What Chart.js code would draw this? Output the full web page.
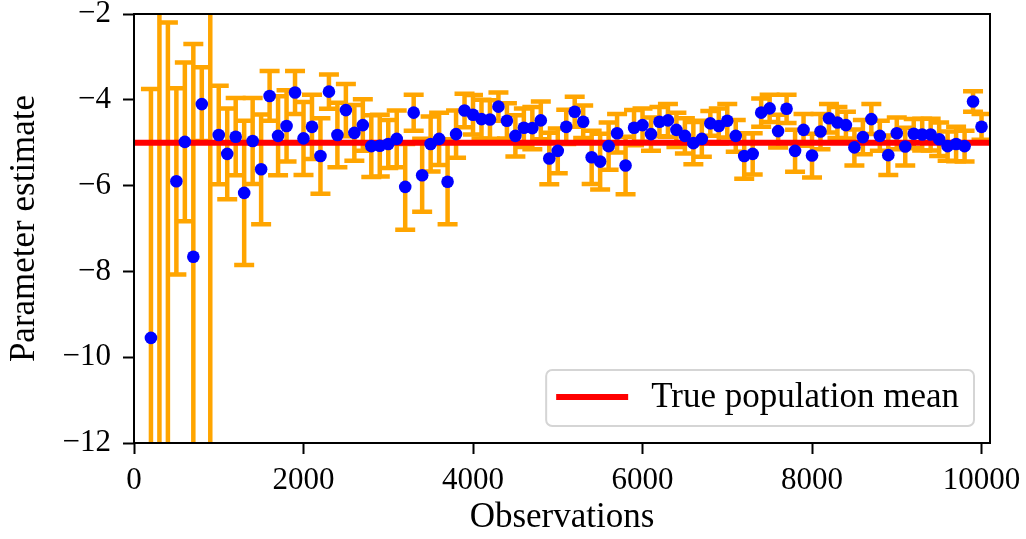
<!DOCTYPE html>
<html>
<head>
<meta charset="utf-8">
<script src="https://cdn.jsdelivr.net/npm/chart.js@4.4.1/dist/chart.umd.min.js"></script>
<style>
  html, body { margin: 0; padding: 0; background: #ffffff; }
  #chart { display: block; }
</style>
</head>
<body>
<canvas id="chart" width="1026" height="539"></canvas>
<script>
// Data
const observations = [
  200, 300, 400, 500, 600, 700, 800, 900, 1000,
  1100, 1200, 1300, 1400, 1500, 1600, 1700, 1800, 1900, 2000,
  2100, 2200, 2300, 2400, 2500, 2600, 2700, 2800, 2900, 3000,
  3100, 3200, 3300, 3400, 3500, 3600, 3700, 3800, 3900, 4000,
  4100, 4200, 4300, 4400, 4500, 4600, 4700, 4800, 4900, 5000,
  5100, 5200, 5300, 5400, 5500, 5600, 5700, 5800, 5900, 6000,
  6100, 6200, 6300, 6400, 6500, 6600, 6700, 6800, 6900, 7000,
  7100, 7200, 7300, 7400, 7500, 7600, 7700, 7800, 7900, 8000,
  8100, 8200, 8300, 8400, 8500, 8600, 8700, 8800, 8900, 9000,
  9100, 9200, 9300, 9400, 9500, 9600, 9700, 9800, 9900, 10000
];

const estimates = [
  -9.55, 2.6, -15.8, -5.9, -4.98, -7.66, -4.10, 0.7, -4.82,
  -5.26, -4.86, -6.17, -4.96, -5.62, -3.91, -4.84, -4.61, -3.83, -4.90,
  -4.63, -5.31, -3.81, -4.82, -4.24, -4.77, -4.59, -5.08, -5.07, -5.03,
  -4.91, -6.03, -4.30, -5.76, -5.03, -4.91, -5.91, -4.80, -4.25, -4.35,
  -4.45, -4.46, -4.16, -4.49, -4.84, -4.65, -4.66, -4.48, -5.37, -5.19,
  -4.63, -4.28, -4.51, -5.34, -5.44, -5.08, -4.78, -5.53, -4.65, -4.59,
  -4.80, -4.51, -4.48, -4.70, -4.84, -5.01, -4.91, -4.55, -4.61, -4.49,
  -4.84, -5.31, -5.26, -4.30, -4.20, -4.73, -4.21, -5.19, -4.70, -5.30,
  -4.74, -4.43, -4.53, -4.59, -5.11, -4.87, -4.45, -4.84, -5.29, -4.78,
  -5.09, -4.79, -4.81, -4.81, -4.92, -5.08, -5.03, -5.08, -4.04, -4.63
];

const errors = [
  5.80, 14.9, 13.6, 2.17, 1.85, 4.96, 0.86, 12.9, 1.15,
  1.06, 0.90, 1.68, 1.00, 1.28, 0.58, 0.92, 0.83, 0.50, 0.85,
  0.75, 0.88, 0.40, 0.75, 0.61, 0.65, 0.60, 0.72, 0.72, 0.56,
  0.66, 1.00, 0.42, 0.85, 0.64, 0.61, 0.99, 0.55, 0.39, 0.46,
  0.45, 0.45, 0.33, 0.41, 0.48, 0.45, 0.49, 0.44, 0.60, 0.52,
  0.40, 0.35, 0.38, 0.62, 0.65, 0.55, 0.45, 0.67, 0.41, 0.39,
  0.39, 0.34, 0.38, 0.40, 0.41, 0.49, 0.42, 0.29, 0.41, 0.39,
  0.37, 0.53, 0.48, 0.33, 0.32, 0.38, 0.33, 0.49, 0.37, 0.51,
  0.41, 0.33, 0.36, 0.31, 0.42, 0.40, 0.35, 0.35, 0.46, 0.37,
  0.44, 0.34, 0.37, 0.37, 0.39, 0.34, 0.40, 0.36, 0.24, 0.30
];

const trueMean = -5;
const xRange = [0, 10100];
const yRange = [-12, -2];
const xTicks = [0, 2000, 4000, 6000, 8000, 10000];
const yTicks = [-12, -10, -8, -6, -4, -2];

const FONT = "'Liberation Serif', 'Times New Roman', serif";

function minusLabel(value) {
  return value < 0 ? "\u2212" + Math.abs(value) : String(value);
}

// vertical error bars with caps, drawn below the datasets
const errorBarPlugin = {
  id: "errorBars",
  beforeDatasetsDraw(chart) {
    const { ctx, chartArea, scales } = chart;
    const xs = scales.x;
    const ys = scales.y;
    const cap = 10;
    ctx.save();
    ctx.beginPath();
    ctx.rect(chartArea.left, chartArea.top, chartArea.right - chartArea.left, chartArea.bottom - chartArea.top);
    ctx.clip();
    ctx.strokeStyle = "#ffa500";
    ctx.lineWidth = 4.5;
    ctx.lineCap = "butt";
    observations.forEach((obs, i) => {
      const x = xs.getPixelForValue(obs);
      const yTop = ys.getPixelForValue(estimates[i] + errors[i]);
      const yBot = ys.getPixelForValue(estimates[i] - errors[i]);
      ctx.beginPath();
      ctx.moveTo(x, yTop);
      ctx.lineTo(x, yBot);
      ctx.moveTo(x - cap, yTop);
      ctx.lineTo(x + cap, yTop);
      ctx.moveTo(x - cap, yBot);
      ctx.lineTo(x + cap, yBot);
      ctx.stroke();
    });
    ctx.restore();
  },
};

// full box frame plus legend inside the lower right corner
const frameLegendPlugin = {
  id: "frameLegend",
  afterDatasetsDraw(chart) {
    const { ctx, chartArea } = chart;
    ctx.save();
    ctx.strokeStyle = "#000000";
    ctx.lineWidth = 2;
    ctx.strokeRect(chartArea.left, chartArea.top, chartArea.right - chartArea.left, chartArea.bottom - chartArea.top);

    const label = chart.data.datasets[0].label;
    ctx.font = "35px " + FONT;
    const textW = ctx.measureText(label).width;
    const right = chartArea.right - 16;
    const bottom = chartArea.bottom - 17;
    const top = bottom - 56;
    const textEnd = right - 15;
    const textStart = textEnd - textW;
    const lineEnd = textStart - 23;
    const lineStart = lineEnd - 72;
    const left = lineStart - 10;
    const midY = (top + bottom) / 2;

    ctx.beginPath();
    ctx.roundRect(left, top, right - left, bottom - top, 6);
    ctx.fillStyle = "rgba(255,255,255,0.8)";
    ctx.fill();
    ctx.strokeStyle = "#d5d5d5";
    ctx.lineWidth = 2;
    ctx.stroke();

    ctx.beginPath();
    ctx.moveTo(lineStart, midY - 1);
    ctx.lineTo(lineEnd, midY - 1);
    ctx.strokeStyle = "#ff0000";
    ctx.lineWidth = 6;
    ctx.stroke();

    ctx.fillStyle = "#000000";
    ctx.textAlign = "left";
    ctx.textBaseline = "middle";
    ctx.fillText(label, textStart, midY);
    ctx.restore();
  },
};

const ctx = document.getElementById("chart").getContext("2d");

new Chart(ctx, {
  data: {
    datasets: [
      {
        type: "line",
        label: "True population mean",
        data: [
          { x: xRange[0], y: trueMean },
          { x: xRange[1], y: trueMean },
        ],
        borderColor: "#ff0000",
        borderWidth: 6,
        pointRadius: 0,
        order: 1,
      },
      {
        type: "scatter",
        label: "Estimates",
        data: observations.map((obs, i) => ({ x: obs, y: estimates[i] })),
        backgroundColor: "#0000ff",
        borderWidth: 0,
        pointRadius: 6.3,
        clip: 0,
        order: 0,
      },
    ],
  },
  options: {
    responsive: false,
    animation: false,
    devicePixelRatio: 1,
    layout: {
      padding: { top: 14, right: 36, left: 0, bottom: 0 },
    },
    plugins: {
      legend: { display: false },
      tooltip: { enabled: false },
    },
    scales: {
      x: {
        type: "linear",
        min: xRange[0],
        max: xRange[1],
        afterFit: (scale) => {
          scale.height = 96;
          scale.paddingLeft = 0;
          scale.paddingRight = 0;
        },
        afterBuildTicks: (scale) => {
          scale.ticks = xTicks.map((v) => ({ value: v }));
        },
        border: { display: false },
        grid: {
          drawOnChartArea: false,
          drawTicks: true,
          tickLength: 11,
          tickWidth: 2,
          tickColor: "#000000",
        },
        ticks: {
          color: "#000000",
          padding: 8,
          maxRotation: 0,
          font: { family: FONT, size: 31 },
          callback: minusLabel,
        },
        title: {
          display: true,
          text: "Observations",
          color: "#000000",
          padding: { top: 0, bottom: 0 },
          font: { family: FONT, size: 35 },
        },
      },
      y: {
        type: "linear",
        min: yRange[0],
        max: yRange[1],
        afterFit: (scale) => {
          scale.width = 134;
          scale.paddingTop = 0;
          scale.paddingBottom = 0;
        },
        afterBuildTicks: (scale) => {
          scale.ticks = yTicks.map((v) => ({ value: v }));
        },
        border: { display: false },
        grid: {
          drawOnChartArea: false,
          drawTicks: true,
          tickLength: 11,
          tickWidth: 2,
          tickColor: "#000000",
        },
        ticks: {
          color: "#000000",
          padding: 12,
          font: { family: FONT, size: 31 },
          callback: minusLabel,
        },
        title: {
          display: true,
          text: "Parameter estimate",
          color: "#000000",
          padding: { top: 4, bottom: 0 },
          font: { family: FONT, size: 35 },
        },
      },
    },
  },
  plugins: [errorBarPlugin, frameLegendPlugin],
});
</script>
</body>
</html>
